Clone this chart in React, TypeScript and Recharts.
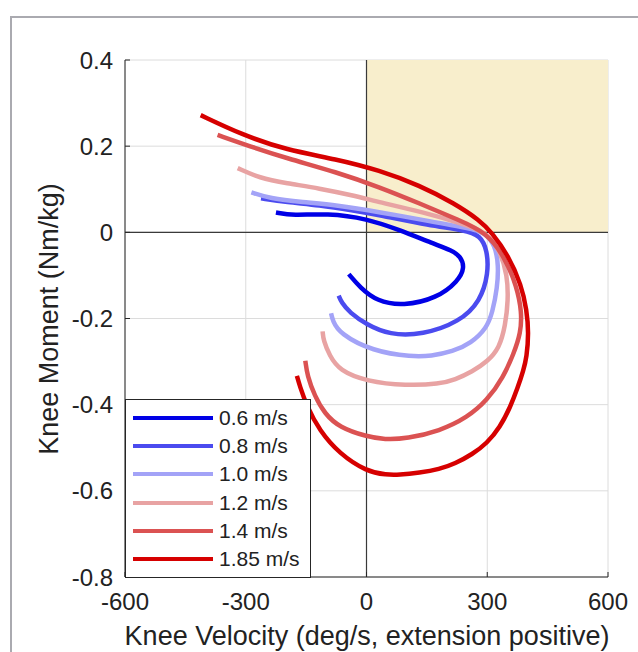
import React from "react";
import {
  LineChart,
  Line,
  XAxis,
  YAxis,
  CartesianGrid,
  ReferenceLine,
  ReferenceArea,
  Legend,
} from "recharts";

// walking speeds and their colours
const SPEEDS = ["0.6 m/s", "0.8 m/s", "1.0 m/s", "1.2 m/s", "1.4 m/s", "1.85 m/s"];
const COLORS = ["#0000e6", "#4b4bef", "#a3a3f7", "#e8a3a3", "#db5252", "#d60000"];

const X_TICKS = [-600, -300, 0, 300, 600];
const Y_TICKS = [0.4, 0.2, 0, -0.2, -0.4, -0.6, -0.8];

// knee velocity (deg/s) and knee moment (Nm/kg), traced along each loop
const VEL_06 = [-225, -183, -98, 1, 83, 165, 212, 234, 244, 228, 175, 91, 26, -16, -44];
const MOM_06 = [0.046, 0.039, 0.044, 0.032, 0.005, -0.026, -0.042, -0.056, -0.082, -0.113, -0.153, -0.171, -0.16, -0.128, -0.097];

const VEL_08 = [-262, -199, -117, -35, 32, 157, 243, 283, 300, 303, 283, 231, 139, 57, 0, -42, -62, -69];
const MOM_08 = [0.079, 0.07, 0.063, 0.051, 0.04, 0.016, 0.005, -0.007, -0.042, -0.095, -0.16, -0.208, -0.238, -0.238, -0.214, -0.186, -0.163, -0.147];

const VEL_10 = [-286, -241, -159, -75, 32, 157, 256, 293, 320, 328, 325, 313, 298, 260, 214, 160, 114, 15, -67, -84, -88];
const MOM_10 = [0.093, 0.079, 0.07, 0.063, 0.047, 0.026, 0.009, 0, -0.03, -0.077, -0.128, -0.186, -0.223, -0.257, -0.277, -0.287, -0.289, -0.276, -0.235, -0.205, -0.188];

const VEL_12 = [-320, -266, -199, -117, -35, 32, 139, 243, 298, 332, 350, 352, 345, 330, 300, 263, 220, 181, 99, 0, -67, -92, -107, -109];
const MOM_12 = [0.149, 0.126, 0.114, 0.102, 0.086, 0.07, 0.047, 0.019, 0, -0.042, -0.1, -0.158, -0.216, -0.269, -0.3, -0.323, -0.342, -0.352, -0.356, -0.346, -0.321, -0.286, -0.251, -0.23];

const VEL_14 = [-370, -291, -199, -75, 32, 132, 231, 298, 345, 373, 386, 383, 366, 340, 300, 250, 182, 100, 45, 0, -67, -104, -129, -147, -152];
const MOM_14 = [0.226, 0.2, 0.172, 0.14, 0.105, 0.067, 0.028, 0, -0.06, -0.125, -0.185, -0.234, -0.281, -0.336, -0.39, -0.43, -0.461, -0.479, -0.481, -0.474, -0.453, -0.421, -0.379, -0.333, -0.298];

const VEL_185 = [-412, -308, -199, -75, 32, 132, 219, 281, 311, 352, 385, 398, 403, 398, 390, 376, 357, 332, 299, 263, 220, 181, 132, 80, 50, 0, -67, -117, -149, -166, -173];
const MOM_185 = [0.272, 0.226, 0.191, 0.17, 0.144, 0.109, 0.067, 0.028, 0, -0.053, -0.123, -0.18, -0.234, -0.29, -0.32, -0.36, -0.406, -0.452, -0.49, -0.515, -0.537, -0.55, -0.558, -0.563, -0.563, -0.555, -0.514, -0.46, -0.402, -0.356, -0.333];

const VELOCITIES = [VEL_06, VEL_08, VEL_10, VEL_12, VEL_14, VEL_185];
const MOMENTS = [MOM_06, MOM_08, MOM_10, MOM_12, MOM_14, MOM_185];

const series = SPEEDS.map((name, i) => ({
  name,
  color: COLORS[i],
  points: VELOCITIES[i].map((v, j) => ({ v, m: MOMENTS[i][j] })),
}));

const FONT = "'Liberation Sans', Arial, sans-serif";
const INK = "#262626";

const renderLegend = (props: any) => {
  const items = props.payload || [];
  return (
    <div
      style={{
        border: `1px solid ${INK}`,
        background: "#fff",
        boxSizing: "border-box",
        width: 186,
        height: 179,
        padding: "4px 0 0 7px",
        fontFamily: FONT,
      }}
    >
      {items.map((it: any) => (
        <div key={it.value} style={{ display: "flex", alignItems: "center", height: 28.2 }}>
          <div style={{ width: 80, height: 4, background: it.color }} />
          <span style={{ marginLeft: 6, fontSize: 21, color: "#222", lineHeight: "28px" }}>{it.value}</span>
        </div>
      ))}
    </div>
  );
};

export default function App() {
  return (
    <div style={{ position: "absolute", left: 0, top: 0, width: 638, height: 652, overflow: "hidden", background: "#fff" }}>
      <div
        style={{
          position: "absolute",
          left: 10,
          top: 16,
          width: 700,
          height: 700,
          border: "2px solid #aaaab0",
        }}
      />
      <div style={{ position: "absolute", left: 0, top: 0 }}>
        <LineChart width={638} height={652} margin={{ top: 60, right: 30, bottom: 35, left: 65 }}>
          <ReferenceArea x1={0} x2={600} y1={0} y2={0.4} fill="#f8eecc" fillOpacity={1} stroke="none" ifOverflow="hidden" />
          <CartesianGrid stroke="#dcdcdc" strokeWidth={1} fill="none" horizontalValues={Y_TICKS} verticalValues={X_TICKS} />
          <XAxis
            type="number"
            dataKey="v"
            domain={[-600, 600]}
            ticks={X_TICKS}
            allowDataOverflow
            height={40}
            tickSize={-5}
            tickMargin={21}
            stroke={INK}
            tick={{ fill: "#222", fontSize: 24, fontFamily: FONT }}
            label={{
              content: () => (
                <text x={367} y={636} textAnchor="middle" dominantBaseline="central" fontSize={27} fontFamily={FONT} fill="#222">
                  Knee Velocity (deg/s, extension positive)
                </text>
              ),
            }}
          />
          <YAxis
            type="number"
            dataKey="m"
            domain={[-0.8, 0.4]}
            ticks={Y_TICKS}
            allowDataOverflow
            width={60}
            tickSize={-5}
            tickMargin={17}
            stroke={INK}
            tick={{ fill: "#222", fontSize: 24, fontFamily: FONT }}
            label={{
              content: () => (
                <text
                  x={49}
                  y={319}
                  transform="rotate(-90 49 319)"
                  textAnchor="middle"
                  dominantBaseline="central"
                  fontSize={27}
                  fontFamily={FONT}
                  fill="#222"
                >
                  Knee Moment (Nm/kg)
                </text>
              ),
            }}
          />
          <ReferenceLine x={0} stroke="#3a3a3a" strokeWidth={1.2} />
          <ReferenceLine y={0} stroke="#3a3a3a" strokeWidth={1.2} />
          {series.map((s) => (
            <Line
              key={s.name}
              name={s.name}
              data={s.points}
              dataKey="m"
              type="basis"
              stroke={s.color}
              strokeWidth={4.5}
              dot={false}
              activeDot={false}
              isAnimationActive={false}
            />
          ))}
          <Legend
            layout="vertical"
            align="center"
            verticalAlign="middle"
            content={renderLegend}
            wrapperStyle={{ position: "absolute", left: 125, top: 399, width: 186, height: 179 }}
          />
        </LineChart>
      </div>
    </div>
  );
}
